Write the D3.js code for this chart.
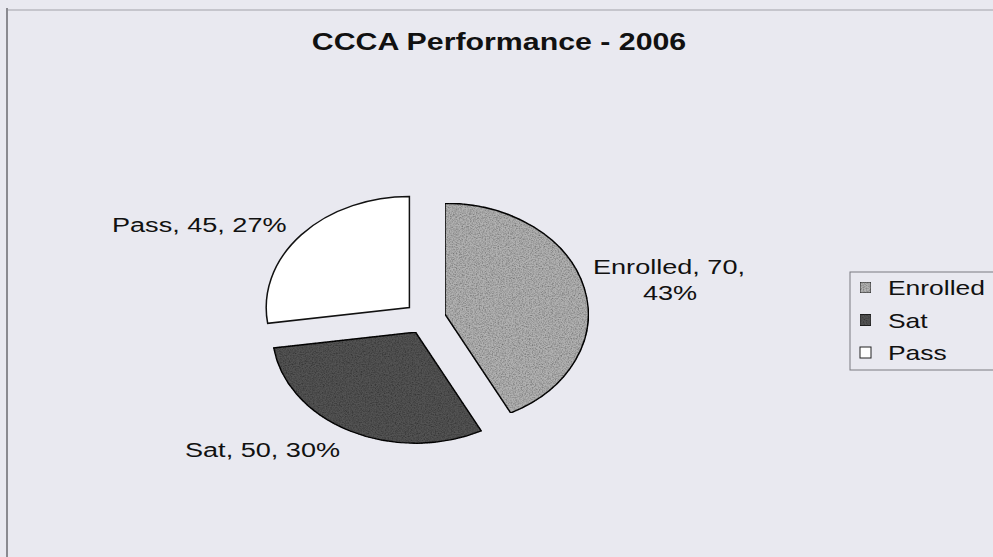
<!DOCTYPE html>
<html lang="en">
<head>
    <meta charset="UTF-8"/>
    <title>CCCA Performance - 2006</title>
    <script src="https://d3js.org/d3.v7.min.js"></script>
    <style>
        body { margin: 0; background: #e9e9f0; }
        svg { display: block; }
        text { font-family: "Liberation Sans", Arial, sans-serif; fill: #111; }
    </style>
</head>
<body>

    <div id="chart"></div>

    <script>
        // chart data
        var categories = ["Enrolled", "Sat", "Pass"];
        var values = [70, 50, 45];
        var percentLabels = ["43%", "30%", "27%"];
        var fills = ["#b1b1b1", "#525252", "#ffffff"];

        var w = 993;
        var h = 557;
        var sx = 1.29;          // the scan is stretched sideways
        var cx = 425, cy = 318; // pie centre
        var r = 111;
        var explode = 16;

        var svg = d3.select("#chart")
                    .append("svg")
                    .attr("width", w)
                    .attr("height", h);

        // speckle for the scanned fills
        var defs = svg.append("defs");
        var flt = defs.append("filter").attr("id", "grain")
                      .attr("x", "0").attr("y", "0").attr("width", "1").attr("height", "1");
        flt.append("feTurbulence").attr("type", "fractalNoise")
           .attr("baseFrequency", 0.9).attr("numOctaves", 2).attr("result", "noise");
        flt.append("feColorMatrix").attr("in", "noise").attr("type", "matrix")
           .attr("values", "0 0 0 0 0  0 0 0 0 0  0 0 0 0 0  0 0 0 -1.2 0.75").attr("result", "dots");
        flt.append("feComposite").attr("in", "dots").attr("in2", "SourceGraphic").attr("operator", "in").attr("result", "d2");
        flt.append("feMerge").selectAll("feMergeNode")
           .data(["SourceGraphic", "d2"]).enter()
           .append("feMergeNode").attr("in", function(d) { return d; });

        // frame
        svg.append("line")
           .attr("x1", 7).attr("y1", 10).attr("x2", w).attr("y2", 10)
           .attr("stroke", "#b9b9c0").attr("stroke-width", 1.5);
        svg.append("line")
           .attr("x1", 7).attr("y1", 8).attr("x2", 7).attr("y2", h)
           .attr("stroke", "#8a8a90").attr("stroke-width", 2);

        function stretchedText(parent, x, y, str, size, anchor, weight) {
            return parent.append("text")
                .attr("transform", "translate(" + x + "," + y + ") scale(" + sx + ",1)")
                .attr("text-anchor", anchor)
                .attr("font-size", size + "px")
                .attr("font-weight", weight || "normal")
                .text(str);
        }

        // title
        stretchedText(svg, 499, 50, "CCCA Performance - 2006", 23.5, "middle", "bold");

        // pie
        var pie = d3.pie().sort(null).value(function(d) { return d; });
        var arcs = pie(values);
        var arc = d3.arc().innerRadius(0).outerRadius(r);

        var pieGroup = svg.append("g")
            .attr("transform", "translate(" + cx + "," + cy + ") scale(" + sx + ",1)");

        pieGroup.selectAll("path")
            .data(arcs)
            .enter()
            .append("path")
            .attr("transform", function(d) {
                var a = (d.startAngle + d.endAngle) / 2;
                return "translate(" + (Math.sin(a) * explode) + "," + (-Math.cos(a) * explode) + ")";
            })
            .attr("d", arc)
            .attr("fill", function(d, i) { return fills[i]; })
            .attr("filter", function(d, i) { return i < 2 ? "url(#grain)" : null; })
            .attr("stroke", "#111")
            .attr("stroke-width", 1.5)
            .attr("vector-effect", "non-scaling-stroke");

        // data labels
        var labelFont = 21;
        stretchedText(svg, cx + 244, cy - 44, categories[0] + ", " + values[0] + ",", labelFont, "middle");
        stretchedText(svg, cx + 245, cy - 18, percentLabels[0], labelFont, "middle");
        stretchedText(svg, cx - 240, cy + 139, categories[1] + ", " + values[1] + ", " + percentLabels[1], labelFont, "start");
        stretchedText(svg, cx - 313, cy - 86, categories[2] + ", " + values[2] + ", " + percentLabels[2], labelFont, "start");

        // legend
        var legend = svg.append("g").attr("transform", "translate(850,272)");
        legend.append("rect")
            .attr("x", 0).attr("y", 0)
            .attr("width", 170).attr("height", 98)
            .attr("fill", "none")
            .attr("stroke", "#7a7a80")
            .attr("stroke-width", 1);

        var items = legend.selectAll("g.item")
            .data(categories)
            .enter()
            .append("g")
            .attr("class", "item")
            .attr("transform", function(d, i) { return "translate(0," + (23 + i * 32.5) + ")"; });

        items.append("rect")
            .attr("x", 10).attr("y", -13)
            .attr("width", 11).attr("height", 11)
            .attr("fill", function(d, i) { return fills[i]; })
            .attr("filter", function(d, i) { return i < 2 ? "url(#grain)" : null; })
            .attr("stroke", "#222")
            .attr("stroke-width", 1);

        items.each(function(d) {
            stretchedText(d3.select(this), 38, 0, d, 20.5, "start");
        });
    </script>

</body>
</html>
